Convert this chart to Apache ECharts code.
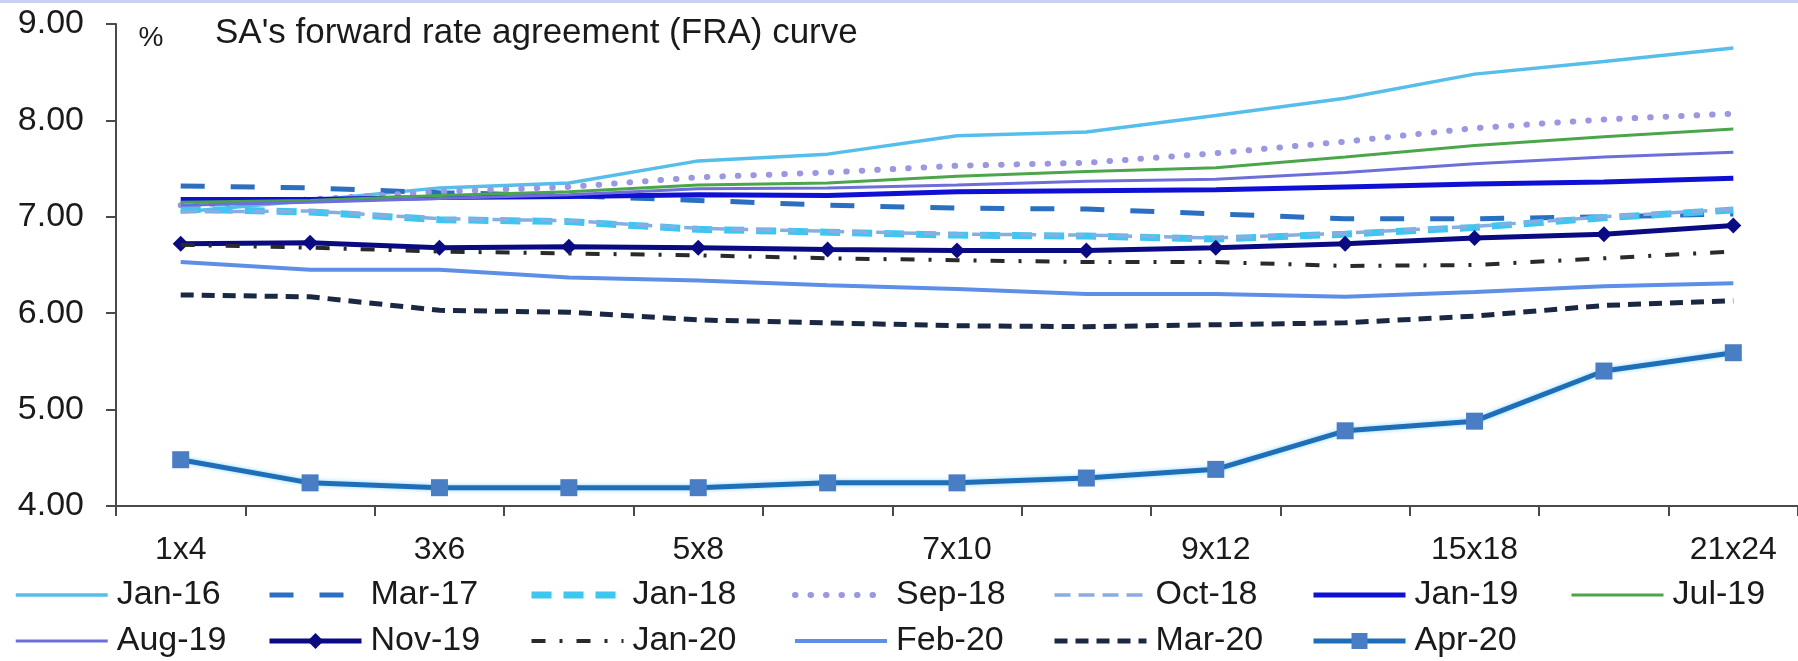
<!DOCTYPE html>
<html>
<head>
<meta charset="utf-8">
<title>SA's forward rate agreement (FRA) curve</title>
<script src="https://cdn.jsdelivr.net/npm/echarts@6/dist/echarts.min.js"></script>
<style>
  html, body { margin: 0; padding: 0; background: #ffffff; }
  #chart { width: 1798px; height: 661px; }
</style>
</head>
<body>
<div id="chart"></div>
<script>
// FRA tenors on the x axis
const tenors = ['1x4', '2x5', '3x6', '4x7', '5x8', '6x9', '7x10', '8x11', '9x12', '12x15', '15x18', '18x21', '21x24'];

// FRA curve (%) on each observation date
const jan16 = [7.05, 7.17, 7.30, 7.35, 7.58, 7.65, 7.84, 7.88, 8.05, 8.23, 8.48, 8.61, 8.75];
const mar17 = [7.32, 7.30, 7.25, 7.22, 7.17, 7.12, 7.09, 7.08, 7.03, 6.98, 6.98, 7.00, 7.03];
const jan18 = [7.08, 7.05, 6.97, 6.95, 6.87, 6.84, 6.81, 6.80, 6.77, 6.82, 6.89, 6.99, 7.07];
const sep18 = [7.12, 7.18, 7.26, 7.31, 7.41, 7.46, 7.53, 7.56, 7.66, 7.78, 7.92, 8.01, 8.07];
const oct18 = [7.05, 7.06, 6.98, 6.96, 6.88, 6.85, 6.82, 6.81, 6.78, 6.83, 6.90, 7.00, 7.08];
const jan19 = [7.18, 7.18, 7.20, 7.21, 7.23, 7.22, 7.26, 7.27, 7.28, 7.31, 7.34, 7.36, 7.40];
const jul19 = [7.15, 7.17, 7.22, 7.26, 7.33, 7.35, 7.42, 7.47, 7.51, 7.62, 7.74, 7.83, 7.91];
const aug19 = [7.12, 7.15, 7.19, 7.23, 7.29, 7.30, 7.33, 7.37, 7.39, 7.46, 7.55, 7.62, 7.67];
const nov19 = [6.72, 6.73, 6.68, 6.69, 6.68, 6.66, 6.65, 6.65, 6.68, 6.72, 6.78, 6.82, 6.91];
const jan20 = [6.71, 6.68, 6.64, 6.62, 6.60, 6.57, 6.55, 6.53, 6.53, 6.49, 6.50, 6.57, 6.64];
const feb20 = [6.53, 6.45, 6.45, 6.37, 6.34, 6.29, 6.25, 6.20, 6.20, 6.17, 6.22, 6.28, 6.31];
const mar20 = [6.19, 6.17, 6.03, 6.01, 5.93, 5.90, 5.87, 5.86, 5.88, 5.90, 5.97, 6.08, 6.13];
const apr20 = [4.48, 4.24, 4.19, 4.19, 4.19, 4.24, 4.24, 4.29, 4.38, 4.78, 4.88, 5.40, 5.59];

const seriesNames = ['Jan-16', 'Mar-17', 'Jan-18', 'Sep-18', 'Oct-18', 'Jan-19', 'Jul-19',
                     'Aug-19', 'Nov-19', 'Jan-20', 'Feb-20', 'Mar-20', 'Apr-20'];
const seriesData = [jan16, mar17, jan18, sep18, oct18, jan19, jul19,
                    aug19, nov19, jan20, feb20, mar20, apr20];

// y-axis tick values
const yTicks = [4, 5, 6, 7, 8, 9];

const FONT = 'Liberation Sans, Arial, sans-serif';
const TEXT = '#1a1a1a';

// line appearance per date
const styles = {
  'Jan-16': { color: '#56BEEA', width: 3.5 },
  'Mar-17': { color: '#2A6FC0', width: 5, type: [24, 26] },
  'Jan-18': { color: '#3CC6F0', width: 7, type: [20, 12] },
  'Sep-18': { color: '#9A98E2', width: 6, type: [0.5, 15], cap: 'round' },
  'Oct-18': { color: '#86AEE2', width: 3.5, type: [16, 8] },
  'Jan-19': { color: '#1010D4', width: 5 },
  'Jul-19': { color: '#4BA64B', width: 3 },
  'Aug-19': { color: '#6E6EDA', width: 3 },
  'Nov-19': { color: '#0A0A82', width: 5, symbol: 'diamond', size: 16 },
  'Jan-20': { color: '#2A2A2A', width: 4, type: [14, 14, 3, 14] },
  'Feb-20': { color: '#5D8FE6', width: 4 },
  'Mar-20': { color: '#1B2844', width: 5, type: [13, 8] },
  'Apr-20': { color: '#1F6FB8', width: 5, symbol: 'rect', size: 17, markerColor: '#4A7EC4', glow: true }
};

const series = seriesNames.map((name, i) => {
  const s = styles[name];
  const lineStyle = { color: s.color, width: s.width, type: s.type || 'solid', cap: s.cap || 'butt' };
  if (s.glow) {
    lineStyle.shadowColor = 'rgba(110, 200, 255, 0.75)';
    lineStyle.shadowBlur = 4;
  }
  return {
    name: name,
    type: 'line',
    data: seriesData[i],
    symbol: s.symbol || 'none',
    symbolSize: s.size || 0,
    showSymbol: !!s.symbol,
    lineStyle: lineStyle,
    itemStyle: { color: s.markerColor || s.color, borderWidth: 0 },
    emphasis: { disabled: true },
    z: 2 + i
  };
});

// legend entries: only dates drawn with markers show a marker in the key
const legendItem = name => styles[name].symbol
  ? { name: name }
  : { name: name, itemStyle: { opacity: 0 } };

// the key is laid out as a 7-column grid, two rows
const legendColumnsLeft = [14, 267, 528, 792, 1052, 1311, 1570];
const legends = legendColumnsLeft.map((left, c) => ({
  orient: 'vertical',
  left: left,
  top: 575,
  padding: 0,
  itemWidth: 92,
  itemHeight: 20,
  itemGap: 6,
  selectedMode: false,
  lineStyle: { width: 'inherit' },
  textStyle: { fontFamily: FONT, fontSize: 34, color: TEXT, lineHeight: 40, padding: [0, 0, 0, 4] },
  data: [seriesNames[c], seriesNames[c + 7]].filter(Boolean).map(legendItem)
}));

const chart = echarts.init(document.getElementById('chart'), null, { renderer: 'canvas' });
chart.setOption({
  animation: false,
  backgroundColor: '#ffffff',
  grid: { left: 116, right: -12, top: 24, bottom: 155, containLabel: false },
  xAxis: {
    type: 'category',
    data: tenors,
    boundaryGap: true,
    axisLine: { show: true, lineStyle: { color: '#4a4a4a', width: 2 } },
    axisTick: { show: true, interval: 0, length: 10, lineStyle: { color: '#4a4a4a', width: 2 } },
    axisLabel: { interval: 1, margin: 28, fontFamily: FONT, fontSize: 32, color: TEXT },
    splitLine: { show: false }
  },
  yAxis: {
    type: 'value',
    min: yTicks[0],
    max: yTicks[yTicks.length - 1],
    interval: 1,
    axisLine: { show: true, lineStyle: { color: '#4a4a4a', width: 2 } },
    axisTick: { show: true, length: 10, lineStyle: { color: '#4a4a4a', width: 2 } },
    axisLabel: { margin: 32, fontFamily: FONT, fontSize: 34, color: TEXT, formatter: v => v.toFixed(2) },
    splitLine: { show: false }
  },
  legend: legends,
  graphic: [
    { type: 'rect', left: 0, top: 0, shape: { width: 1798, height: 3 }, style: { fill: '#C9D1F2' }, silent: true },
    { type: 'text', x: 151, y: 38, style: { text: '%', fontFamily: FONT, fontSize: 28, fill: TEXT, align: 'center', verticalAlign: 'middle' } },
    { type: 'text', x: 215, y: 33, style: { text: "SA's forward rate agreement (FRA) curve", fontFamily: FONT, fontSize: 35, fill: TEXT, align: 'left', verticalAlign: 'middle' } }
  ],
  series: series
});
</script>
</body>
</html>
